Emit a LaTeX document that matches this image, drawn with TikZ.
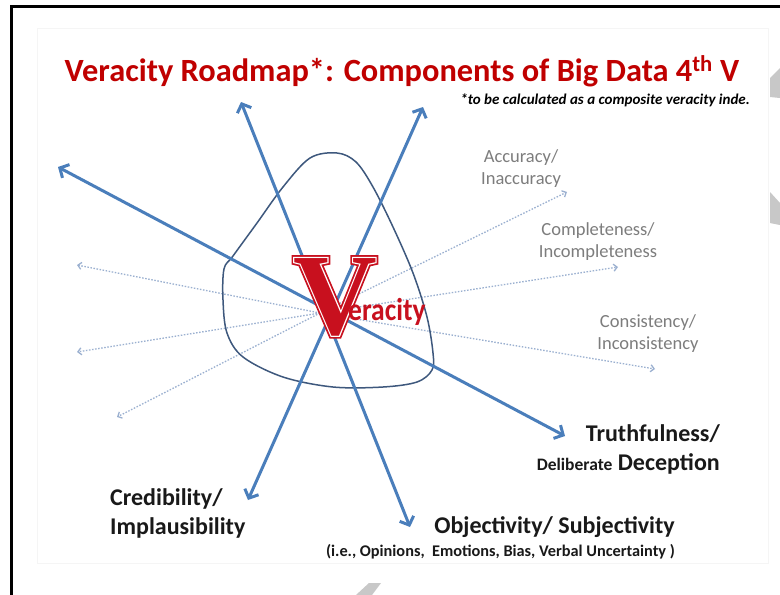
\documentclass[tikz,border=0pt]{standalone}
\usepackage{fontspec}
\setmainfont{Carlito}
\newfontfamily\vfontfat[FakeBold=5]{Liberation Serif Bold}
\newfontfamily\vfontmid[FakeBold=2]{Liberation Serif Bold}
\newfontfamily\vfont{Liberation Serif Bold}
\usepackage{graphicx}
\usetikzlibrary{arrows.meta}
\definecolor{titlered}{RGB}{192,0,0}
\definecolor{vred}{RGB}{200,16,30}
\definecolor{lineblue}{RGB}{74,126,187}
\definecolor{dotblue}{RGB}{155,176,208}
\definecolor{curveblue}{RGB}{62,88,125}
\definecolor{labelgray}{RGB}{125,125,125}
\definecolor{labelblack}{RGB}{25,25,25}
\definecolor{wmgray}{RGB}{200,200,200}
\definecolor{slideedge}{RGB}{245,245,245}
\begin{document}
\begin{tikzpicture}[x=1pt,y=-1pt,
  bigarrow/.style={draw=lineblue, line width=3pt, {Straight Barb[length=7pt,width=15pt]}-{Straight Barb[length=7pt,width=15pt]}},
  dotarrow/.style={draw=dotblue, line width=1.3pt, dash pattern=on 1.5pt off 1.6pt, -{Straight Barb[length=3.5pt,width=7pt]}},
  graylabel/.style={text=labelgray, font=\fontsize{18.5}{21.5}\selectfont, align=center, inner sep=0pt, anchor=base},
  blacklabel/.style={text=labelblack, font=\fontsize{24}{28}\selectfont\bfseries, inner sep=0pt},
  vletter/.style={anchor=base, inner sep=0pt},
  wm/.style={fill=wmgray, draw=none}
]
\useasboundingbox (0,0) rectangle (780,595);
\fill[white] (0,0) rectangle (780,595);
% faint slide edge
\draw[slideedge, line width=1pt] (37,28) rectangle (768,563);
% frame
\draw[black, line width=2.2pt] (11.5,595) -- (11.5,6.5) -- (780,6.5);
% watermark shapes
\fill[wm] (770,78) -- (780,68) -- (780,98) -- (770,97) -- cycle;
\fill[wm] (770,192) -- (780,203) -- (780,225) -- (770,223) -- cycle;
\fill[wm] (356,595) -- (369,583) -- (381,583) -- (372,595) -- cycle;

% title
\node[anchor=base, text=titlered, font=\fontsize{32.4}{38}\selectfont\bfseries, inner sep=0pt] (title) at (402,81)
  {Veracity Roadmap*: Components of Big Data 4\textsuperscript{th} V};
\node[anchor=base east, text=black, font=\fontsize{15}{17}\selectfont\bfseries\itshape, inner sep=0pt] (note) at (750,104)
  {*to be calculated as a composite veracity inde.};

% centre and end points
\coordinate (c) at (320,313);
\coordinate (dl1) at (77,265);
\coordinate (dl2) at (77,352);
\coordinate (dl3) at (117,417);
\coordinate (dr1) at (567,192);
\coordinate (dr2) at (618,267);
\coordinate (dr3) at (655,369);
\draw[dotarrow] (c) -- (dl1);
\draw[dotarrow] (c) -- (dl2);
\draw[dotarrow] (c) -- (dl3);
\draw[dotarrow] (c) -- (dr1);
\draw[dotarrow] (c) -- (dr2);
\draw[dotarrow] (c) -- (dr3);

% outline shape
\draw[curveblue, line width=1.5pt] plot[smooth cycle, tension=0.55] coordinates {
  (337,153) (310,158) (283,187) (257,223) (233,256) (224,269) (223,300) (227,333)
  (243,357) (283,377) (333,387) (383,387) (417,382) (432,370) (433,353) (427,317)
  (413,273) (393,227) (373,187) (356,162)};

% main arrows
\coordinate (a1s) at (58,167);
\coordinate (a1e) at (565,436);
\coordinate (a2s) at (241,102);
\coordinate (a2e) at (410,527);
\coordinate (a3s) at (423,107);
\coordinate (a3e) at (248,500);
\draw[bigarrow] (a1s) -- (a1e);
\draw[bigarrow] (a2s) -- (a2e);
\draw[bigarrow] (a3s) -- (a3e);

% V logo (inline effect by layering)
\node[vletter, text=vred, font=\vfontfat\fontsize{116}{116}\selectfont] (vbig) at (335,334) {V};
\node[vletter, text=white, font=\vfontmid\fontsize{116}{116}\selectfont] (vline) at (335,334) {V};
\node[vletter, text=vred, font=\vfont\fontsize{116}{116}\selectfont] (vcore) at (335,334) {V};
\node[anchor=base west, inner sep=0pt, text=vred, font=\fontsize{27.5}{30}\selectfont\bfseries] (eracity) at (348,320)
  {\scalebox{1}[1.15]{eracity}};

% gray labels (base = last line)
\node[graylabel] (acc) at (521,184) {Accuracy/\\Inaccuracy};
\node[graylabel] (comp) at (598,257) {Completeness/\\Incompleteness};
\node[graylabel] (cons) at (648,349) {Consistency/\\Inconsistency};

% black labels (base = last line)
\node[blacklabel, anchor=base east, align=right] (truth) at (720,470)
  {Truthfulness/\\[1pt]{\fontsize{17.5}{20}\selectfont Deliberate} Deception};
\node[blacklabel, anchor=base west, align=left] (cred) at (110,534)
  {Credibility/\\[1pt]Implausibility};
\node[blacklabel, anchor=base east, align=right] (obj) at (675,556)
  {Objectivity/ Subjectivity\\[-5pt]{\fontsize{16.3}{18}\selectfont (i.e., Opinions,\ \ Emotions, Bias, Verbal Uncertainty )}};
\end{tikzpicture}
\end{document}
